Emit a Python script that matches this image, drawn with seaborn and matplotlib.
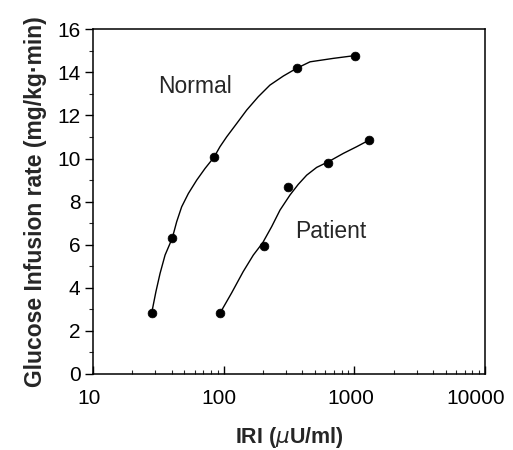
import pandas as pd
import matplotlib.pyplot as plt
import matplotlib.transforms as mtransforms
import seaborn as sns
from matplotlib.ticker import FixedLocator, NullFormatter

normal_iri = [28.1, 40.5, 84.0, 362, 1010]
normal_rate = [2.82, 6.30, 10.06, 14.19, 14.78]
patient_iri = [93.7, 205, 312, 632, 1300]
patient_rate = [2.82, 5.95, 8.69, 9.78, 10.86]

# Hand-drawn fitted curves
normal_curve_iri = [28.1, 30.3, 32.6, 35.6, 40.4, 43.7, 47.7, 53.7, 62.2, 72.0, 84.3,
                    93.7, 105.5, 125.9, 150, 184, 226, 286, 362, 458, 690, 1010]
normal_curve_rate = [2.82, 3.82, 4.67, 5.52, 6.30, 7.07, 7.76, 8.38, 9.00, 9.54, 10.06,
                     10.55, 11.01, 11.63, 12.25, 12.87, 13.41, 13.83, 14.19, 14.49, 14.65, 14.78]
patient_curve_iri = [93.7, 115.2, 141, 168.6, 198.9, 233, 270, 322, 372, 432, 515,
                     632, 824, 1042, 1300]
patient_curve_rate = [2.82, 3.77, 4.75, 5.52, 6.09, 6.84, 7.61, 8.31, 8.80, 9.23, 9.59,
                      9.85, 10.24, 10.55, 10.86]

y_ticks = [0, 2, 4, 6, 8, 10, 12, 14, 16]
x_ticks = [10, 100, 1000, 10000]
x_tick_labels = ['10', '100', '1000', '10000']
x_label_shift = [-4, -5, -4, -9]  # px, labels sit a bit left of their ticks

pts = pd.DataFrame({
    'IRI': normal_iri + patient_iri,
    'rate': normal_rate + patient_rate,
    'group': ['Normal'] * len(normal_iri) + ['Patient'] * len(patient_iri),
})
curves = pd.DataFrame({
    'IRI': normal_curve_iri + patient_curve_iri,
    'rate': normal_curve_rate + patient_curve_rate,
    'group': ['Normal'] * len(normal_curve_iri) + ['Patient'] * len(patient_curve_iri),
})

sns.set_style('ticks')
plt.rcParams['font.family'] = ['Liberation Sans', 'DejaVu Sans']

fig = plt.figure(figsize=(5.13, 4.5), dpi=100)
ax = fig.add_axes([0.1813, 0.1689, 0.7641, 0.766])

sns.lineplot(data=curves, x='IRI', y='rate', units='group', estimator=None,
             sort=False, color='black', linewidth=1.0, ax=ax)
sns.scatterplot(data=pts, x='IRI', y='rate', color='black', s=40,
                edgecolor='black', linewidth=0.5, ax=ax, legend=False)

ax.set_xscale('log')
ax.set_xlim(10, 10000)
ax.set_ylim(0, 16)
ax.set_xticks(x_ticks)
ax.set_xticklabels(x_tick_labels)
ax.xaxis.set_minor_locator(FixedLocator([m * 10 ** e for e in range(1, 4) for m in range(2, 10)]))
ax.xaxis.set_minor_formatter(NullFormatter())
ax.set_yticks(y_ticks)
ax.yaxis.set_minor_locator(FixedLocator([1, 3, 5, 7, 9, 11, 13, 15]))

for s in ax.spines.values():
    s.set_linewidth(1.1)
    s.set_color('black')

ax.tick_params(axis='x', which='major', direction='in', length=6, width=1.0,
               labelsize=15, pad=11, colors='black')
ax.tick_params(axis='x', which='minor', direction='in', length=3, width=0.8)
ax.tick_params(axis='y', which='major', direction='out', length=6, width=1.0,
               labelsize=15, pad=3, colors='black')
ax.tick_params(axis='y', which='minor', direction='out', length=3, width=0.8)

for lab, dx in zip(ax.get_xticklabels(), x_label_shift):
    lab.set_transform(lab.get_transform() +
                      mtransforms.ScaledTranslation(dx / 100, 0, fig.dpi_scale_trans))

ax.set_xlabel('IRI ($\\mathit{\\mu}$U/ml)', fontsize=15.5, fontweight='bold', labelpad=12)
ax.set_ylabel('Glucose Infusion rate (mg/kg\u00b7min)', fontsize=16.5,
              fontweight='bold', labelpad=7)

ax.text(31.4, 13.03, 'Normal', fontsize=16.5, ha='left', va='baseline')
ax.text(352, 6.31, 'Patient', fontsize=16.5, ha='left', va='baseline')

plt.savefig('out.png', dpi=100)
plt.close()
